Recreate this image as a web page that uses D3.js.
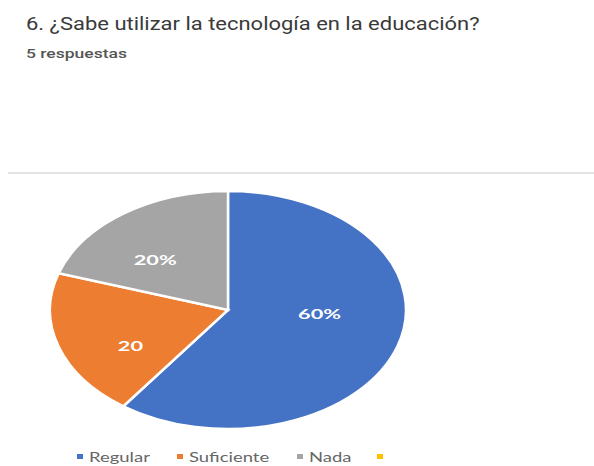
<!DOCTYPE html>
<html><head><meta charset="utf-8">
<script src="https://cdn.jsdelivr.net/npm/d3@7"></script>
<style>html,body{margin:0;padding:0;background:#fff;}svg{display:block;}</style>
</head><body>
<svg id="c" width="594" height="466"></svg>
<script>
const title = "6. ¿Sabe utilizar la tecnología en la educación?";
const subtitle = "5 respuestas";
const categories = ["Regular", "Suficiente", "Nada", ""];
const values = [60, 20, 20, 0];
const labels = ["60%", "20", "20%", ""];
const colors = ["#4472C4", "#ED7D31", "#A5A5A5", "#FFC000"];

const svg = d3.select("#c");
svg.append("rect").attr("width", 594).attr("height", 466).attr("fill", "#fff");

// the reference image is horizontally stretched; text widths emulate that
function stretch(sel, factor) {
  sel.each(function() {
    const w = this.getComputedTextLength();
    if (w > 0) d3.select(this).attr("textLength", w * factor).attr("lengthAdjust", "spacingAndGlyphs");
  });
  return sel;
}

stretch(svg.append("text").attr("x", 26).attr("y", 29.5)
  .attr("font-family", "Roboto, sans-serif").attr("font-size", 18)
  .attr("fill", "#3a3a3a").text(title), 1.22);
stretch(svg.append("text").attr("x", 26).attr("y", 57.5)
  .attr("font-family", "Roboto, sans-serif").attr("font-size", 12.5).attr("font-weight", 500)
  .attr("fill", "#555").text(subtitle), 1.4);

svg.append("line").attr("x1", 8).attr("x2", 594).attr("y1", 173).attr("y2", 173)
  .attr("stroke", "#e3e3e3").attr("stroke-width", 2);

const cx = 228, cy = 310, rx = 178, ry = 119;
const pie = d3.pie().sort(null).value(d => d)(values);
const arc = d3.arc().innerRadius(0).outerRadius(1);
const g = svg.append("g").attr("transform", `translate(${cx},${cy}) scale(${rx},${ry})`);
g.selectAll("path").data(pie.filter(d => d.value > 0)).join("path")
  .attr("d", arc)
  .attr("fill", d => colors[d.index])
  .attr("stroke", "#fff").attr("stroke-width", 2.5)
  .attr("vector-effect", "non-scaling-stroke");

// data-label nudges relative to the slice centroid (Excel "best fit" placement)
const labelNudge = [[-10, -18], [4, 14], [-10, 8], [0, 0]];
const labelArc = d3.arc().innerRadius(0.6).outerRadius(0.6);
stretch(svg.append("g").selectAll("text").data(pie.filter(d => d.value > 0)).join("text")
  .attr("x", d => cx + labelArc.centroid(d)[0] * rx + labelNudge[d.index][0])
  .attr("y", d => cy + labelArc.centroid(d)[1] * ry + labelNudge[d.index][1])
  .attr("text-anchor", "middle").attr("dy", "0.36em")
  .attr("font-family", "Lato, sans-serif").attr("font-weight", "bold")
  .attr("font-size", 14)
  .attr("fill", "#fff").text(d => labels[d.index]), 1.55);

const legendX = [77, 177, 297, 377];
const lg = svg.append("g");
categories.forEach((c, i) => {
  lg.append("rect").attr("x", legendX[i]).attr("y", 454).attr("width", 6).attr("height", 5)
    .attr("fill", colors[i]);
  stretch(lg.append("text").attr("x", legendX[i] + 12).attr("y", 462)
    .attr("font-family", "Lato, sans-serif").attr("font-size", 13)
    .attr("fill", "#666").text(c), 1.42);
});
</script>
</body></html>
